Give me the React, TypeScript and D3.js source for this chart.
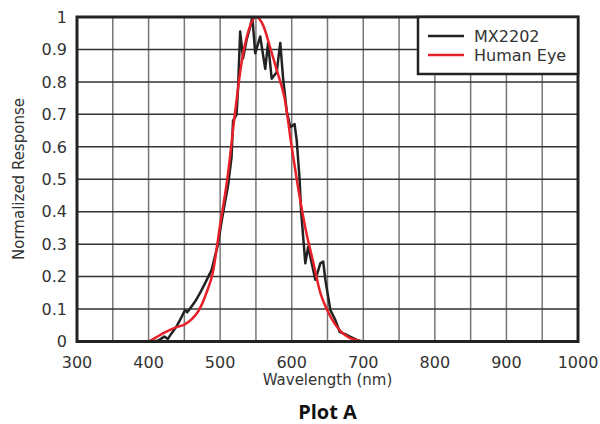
import React, { useEffect, useRef } from 'react';
import * as d3 from 'd3';

// wavelength (nm) / normalized response
const sensorNm = [410, 415, 422, 427, 432, 439, 446, 451, 454, 458, 465, 472, 479, 488, 497, 502, 506, 511, 516, 518, 523, 525, 528, 532, 537, 542, 545, 549, 556, 563, 567, 572, 579, 584, 588, 593, 598, 604, 607, 611, 613, 619, 623, 633, 640, 644, 647, 654, 661, 667, 677, 691, 697];
const sensorVal = [0, 0.005, 0.015, 0.008, 0.025, 0.046, 0.075, 0.097, 0.09, 0.102, 0.123, 0.15, 0.18, 0.22, 0.3, 0.37, 0.42, 0.48, 0.57, 0.68, 0.7, 0.78, 0.955, 0.873, 0.93, 0.97, 1.0, 0.888, 0.94, 0.84, 0.92, 0.81, 0.83, 0.92, 0.81, 0.71, 0.66, 0.67, 0.62, 0.5, 0.405, 0.241, 0.292, 0.19, 0.241, 0.246, 0.19, 0.097, 0.066, 0.03, 0.02, 0.005, 0];

const eyeNm = [400, 410, 420, 430, 440, 450, 460, 470, 480, 490, 500, 510, 520, 530, 540, 550, 560, 570, 580, 590, 600, 610, 620, 630, 640, 650, 660, 670, 680, 690, 700];
const eyeVal = [0, 0.012, 0.025, 0.036, 0.045, 0.052, 0.068, 0.095, 0.145, 0.215, 0.36, 0.5, 0.69, 0.86, 0.96, 1.0, 0.975, 0.905, 0.83, 0.75, 0.6, 0.46, 0.34, 0.245, 0.15, 0.095, 0.055, 0.028, 0.012, 0.005, 0];

const xTicks = [300, 400, 500, 600, 700, 800, 900, 1000];
const xGrid = d3.range(300, 1001, 50);
const yTicks = [0, 0.1, 0.2, 0.3, 0.4, 0.5, 0.6, 0.7, 0.8, 0.9, 1];

const series = [
  { name: 'MX2202', color: '#222', nm: sensorNm, val: sensorVal },
  { name: 'Human Eye', color: '#e8202a', nm: eyeNm, val: eyeVal },
];

const App = () => {
  const ref = useRef<SVGSVGElement>(null);

  useEffect(() => {
    const svg = d3.select(ref.current);
    svg.selectAll('*').remove();

    const m = { left: 77, top: 17, right: 578, bottom: 341.5 };
    const x = d3.scaleLinear().domain([300, 1000]).range([m.left, m.right]);
    const y = d3.scaleLinear().domain([0, 1]).range([m.bottom, m.top]);
    const font = '"DejaVu Sans", Arial, sans-serif';

    const grid = svg.append('g');
    grid.selectAll('.vg')
      .data(xGrid)
      .enter()
      .append('line')
      .attr('x1', d => x(d)).attr('x2', d => x(d))
      .attr('y1', m.top).attr('y2', m.bottom)
      .attr('stroke', '#777').attr('stroke-width', 1.5);
    grid.selectAll('.hg')
      .data(yTicks)
      .enter()
      .append('line')
      .attr('x1', m.left).attr('x2', m.right)
      .attr('y1', d => y(d)).attr('y2', d => y(d))
      .attr('stroke', '#333').attr('stroke-width', 1.5);

    const line = d3.line<[number, number]>()
      .x(d => x(d[0]))
      .y(d => y(d[1]));

    // sensor first, eye curve drawn on top
    series.forEach(s => {
      const pts = s.nm.map((n, i) => [n, s.val[i]] as [number, number]);
      svg.append('path')
        .attr('d', s.name === 'Human Eye' ? line.curve(d3.curveMonotoneX)(pts) : line.curve(d3.curveLinear)(pts))
        .attr('fill', 'none')
        .attr('stroke', s.color)
        .attr('stroke-width', 2.5)
        .attr('stroke-linejoin', 'round');
    });

    svg.append('rect')
      .attr('x', m.left).attr('y', m.top)
      .attr('width', m.right - m.left).attr('height', m.bottom - m.top)
      .attr('fill', 'none').attr('stroke', '#222').attr('stroke-width', 3);

    svg.selectAll('.yt')
      .data(yTicks)
      .enter()
      .append('text')
      .attr('x', 67).attr('y', d => y(d))
      .attr('dy', '0.36em')
      .attr('text-anchor', 'end')
      .attr('font-family', font).attr('font-size', 16).attr('fill', '#333')
      .text(d => String(d));

    svg.selectAll('.xt')
      .data(xTicks)
      .enter()
      .append('text')
      .attr('x', d => x(d)).attr('y', 367.5)
      .attr('text-anchor', 'middle')
      .attr('font-family', font).attr('font-size', 16).attr('fill', '#333')
      .text(d => String(d));

    svg.append('text')
      .attr('x', (m.left + m.right) / 2).attr('y', 385)
      .attr('text-anchor', 'middle')
      .attr('font-family', font).attr('font-size', 15).attr('fill', '#333')
      .text('Wavelength (nm)');

    svg.append('text')
      .attr('transform', 'translate(24,179) rotate(-90)')
      .attr('text-anchor', 'middle')
      .attr('font-family', font).attr('font-size', 15).attr('fill', '#333')
      .text('Normalized Response');

    svg.append('text')
      .attr('x', (m.left + m.right) / 2).attr('y', 419)
      .attr('text-anchor', 'middle')
      .attr('font-family', '"Open Sans", Calibri, sans-serif').attr('font-weight', 'bold')
      .attr('font-size', 20).attr('fill', '#111')
      .text('Plot A');

    // legend
    const lg = svg.append('g');
    lg.append('rect')
      .attr('x', 418).attr('y', m.top)
      .attr('width', m.right - 418).attr('height', 57)
      .attr('fill', '#fff').attr('stroke', '#222').attr('stroke-width', 2.5);
    series.forEach((s, i) => {
      const ly = 36 + i * 19;
      lg.append('line')
        .attr('x1', 428).attr('x2', 464)
        .attr('y1', ly).attr('y2', ly)
        .attr('stroke', s.color).attr('stroke-width', 2.5);
      lg.append('text')
        .attr('x', 474).attr('y', ly)
        .attr('dy', '0.36em')
        .attr('font-family', font).attr('font-size', 16).attr('fill', '#333')
        .text(s.name);
    });
  }, []);

  return (
    <svg ref={ref} width={600} height={424}
      style={{ position: 'absolute', left: 0, top: 0, background: '#fff' }} />
  );
};

export default App;
